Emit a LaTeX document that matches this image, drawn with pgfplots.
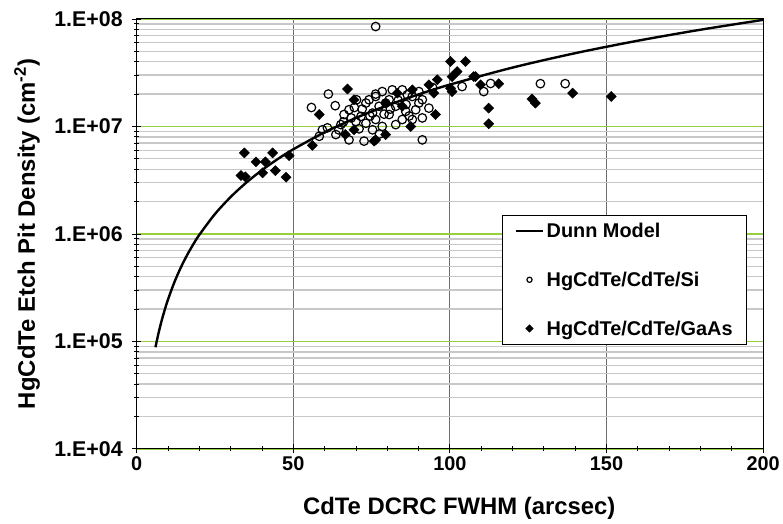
\documentclass[border=0pt]{standalone}
\usepackage{pgfplots}
\pgfplotsset{compat=1.18}
\usepackage{fontspec}
\setmainfont{Liberation Sans}
\definecolor{gridgreen}{RGB}{150,208,60}
\definecolor{gridgray}{RGB}{200,200,200}
\definecolor{vgray}{RGB}{110,110,110}
\begin{document}
\begin{tikzpicture}
\begin{axis}[
  scale only axis,
  width=628bp, height=431bp,
  xmin=0, xmax=200,
  ymode=log, ymin=1e4, ymax=1e8,
  xtick={0,50,100,150,200},
  minor x tick num=4,
  ytick={1e4,1e5,1e6,1e7,1e8},
  yticklabels={1.E+04,1.E+05,1.E+06,1.E+07,1.E+08},
  minor ytick={2e4,3e4,4e4,5e4,6e4,7e4,8e4,9e4,2e5,3e5,4e5,5e5,6e5,7e5,8e5,9e5,
    2e6,3e6,4e6,5e6,6e6,7e6,8e6,9e6,2e7,3e7,4e7,5e7,6e7,7e7,8e7,9e7},
  tick pos=left,
  tick align=center,
  major tick length=9bp,
  minor tick length=5bp,
  tick style={black, line width=0.8bp},
  axis line style={black, line width=0.9bp},
  xmajorgrids, ymajorgrids, yminorgrids,
  major x grid style={vgray, line width=1bp},
  major y grid style={gridgreen, line width=1.4bp},
  minor y grid style={gridgray, line width=1.4bp},
  /pgf/number format/assume math mode=true,
  xticklabel style={font=\bfseries\fontsize{20}{24}\selectfont},
  yticklabel style={font=\bfseries\fontsize{21.5}{24}\selectfont, xshift=-6bp},
  xlabel={CdTe DCRC FWHM (arcsec)},
  ylabel={HgCdTe Etch Pit Density (cm\textsuperscript{-2})},
  every axis x label/.style={at={(axis description cs:0.515,-0.139)}, anchor=center,
    font=\bfseries\fontsize{24}{28}\selectfont},
  every axis y label/.style={at={(axis description cs:-0.175,0.5)}, rotate=90, anchor=center,
    font=\bfseries\fontsize{24}{28}\selectfont},
  legend style={at={(axis description cs:0.583,0.545)}, anchor=north west,
    draw=black, line width=1bp, fill=white,
    font=\bfseries\fontsize{20}{24}\selectfont,
    row sep=29bp, inner xsep=12bp, inner ysep=6bp},
  legend cell align=left,
  legend image code/.code={\draw[mark repeat=2,mark phase=2,#1]
    plot coordinates {(0bp,0bp) (14bp,0bp) (28bp,0bp)};},
]
% Dunn model
\addplot[black, line width=2.4bp, smooth] coordinates {
  (6,88200) (7,120050) (8,156800) (9,198450) (10,245000) (12,352800)
  (14,480200) (16,627200) (18,793800) (20,980000) (25,1531250) (30,2205000)
  (35,3001250) (40,3920000) (45,4961250) (50,6125000) (60,8820000)
  (70,1.2005e7) (80,1.568e7) (90,1.9845e7) (100,2.45e7) (120,3.528e7)
  (140,4.802e7) (160,6.272e7) (180,7.938e7) (200,9.8e7)
};
\addlegendentry{Dunn Model}
% HgCdTe/CdTe/Si
\addplot[only marks, mark=o, mark size=4.3bp, black, line width=1.2bp,
  mark options={fill=white}, legend image post style={mark size=2.6bp}] coordinates {
  (76.3,8.5e7) (61.2,2.0e7) (55.8,1.50e7) (63.4,1.56e7) (59.3,9.3e6)
  (58.3,8.1e6) (60.9,9.7e6) (63.6,8.4e6) (65.2,1.04e7) (66.2,1.29e7)
  (67.8,1.43e7) (70.2,1.77e7) (71.6,1.24e7) (73.2,1.65e7) (74.2,1.77e7)
  (76.3,2.0e7) (70.0,1.11e7) (73.2,1.07e7) (75.3,1.33e7) (67.8,7.5e6)
  (72.6,7.3e6) (78.4,2.11e7) (76.3,1.90e7) (81.6,2.19e7) (84.8,2.19e7)
  (86.4,1.97e7) (80.6,1.77e7) (77.4,1.54e7) (82.7,1.54e7) (88.0,1.90e7)
  (90.1,2.11e7) (91.2,1.77e7) (93.3,1.48e7) (89.1,1.43e7) (85.9,1.38e7)
  (80.6,1.29e7) (76.3,1.16e7) (84.8,1.16e7) (88.0,1.16e7) (91.2,1.20e7)
  (82.7,1.04e7) (78.4,1.0e7) (75.3,9.3e6) (91.2,7.5e6) (103.9,2.35e7)
  (90.1,1.65e7) (113.0,2.51e7) (110.8,2.11e7) (128.9,2.5e7) (136.8,2.5e7)
  (68.5,1.2e7) (69.5,1.5e7) (72.0,1.45e7) (74.5,1.25e7) (79.0,1.3e7)
  (81.0,1.45e7) (83.5,1.75e7) (86.0,1.6e7) (87.0,1.25e7) (79.5,1.65e7)
  (66.0,1.1e7) (64.5,9.3e6) (77.5,8.5e6) (71.0,9.5e6) (94.5,2.3e7)
};
\addlegendentry{HgCdTe/CdTe/Si}
% HgCdTe/CdTe/GaAs
\addplot[only marks, mark=square*, mark size=3.6bp, black,
  mark options={rotate=45}, legend image post style={mark size=2.4bp}] coordinates {
  (34.4,5.67e6) (38.1,4.68e6) (41.1,4.68e6) (43.4,5.67e6) (48.7,5.35e6)
  (33.3,3.49e6) (34.7,3.40e6) (40.2,3.70e6) (44.3,3.88e6) (47.7,3.37e6)
  (56.1,6.67e6) (67.3,2.23e7) (58.3,1.29e7) (69.4,1.77e7) (66.6,8.4e6)
  (69.4,9.3e6) (76.3,7.5e6) (100.2,4.02e7) (105.0,4.02e7) (102.3,3.24e7)
  (100.7,2.91e7) (107.6,2.91e7) (100.7,2.11e7) (100.2,2.27e7) (96.0,2.72e7)
  (94.9,2.04e7) (93.3,2.44e7) (83.2,2.04e7) (79.5,1.65e7) (84.8,1.54e7)
  (95.4,1.29e7) (87.5,1.0e7) (79.5,8.4e6) (75.8,7.3e6) (88.0,2.19e7)
  (108.2,2.91e7) (109.8,2.44e7) (115.6,2.5e7) (112.4,1.48e7) (112.4,1.06e7)
  (126.2,1.80e7) (127.3,1.65e7) (139.2,2.04e7) (151.5,1.90e7)
};
\addlegendentry{HgCdTe/CdTe/GaAs}
\end{axis}
\path ([xshift=-137bp,yshift=-75bp]current axis.south west)
  rectangle ([xshift=18bp,yshift=19bp]current axis.north east);
\end{tikzpicture}
\end{document}
